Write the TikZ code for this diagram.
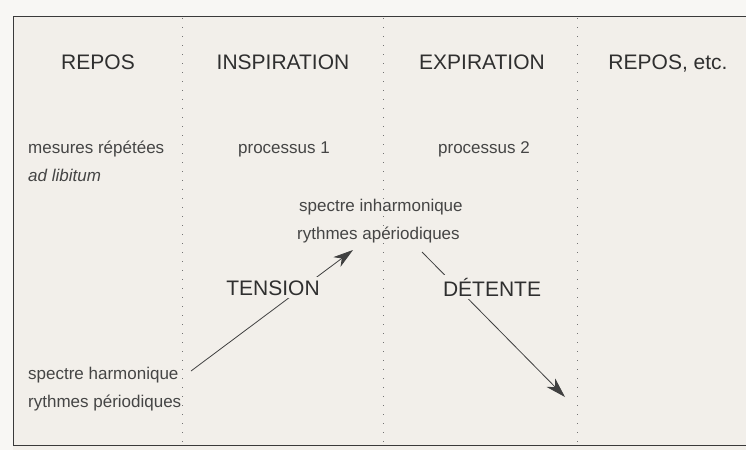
\documentclass[tikz,border=0pt]{standalone}
\usepackage{fontspec}
\setmainfont{Liberation Sans}
\usetikzlibrary{arrows.meta}
\definecolor{bg}{HTML}{F2EFEA}
\definecolor{paper}{HTML}{F8F7F4}
\definecolor{ink}{HTML}{2F2F2F}
\definecolor{soft}{HTML}{454545}
\definecolor{rule}{HTML}{3A3A3A}
\begin{document}
\begin{tikzpicture}[x=1pt,y=-1pt,
  head/.style={font=\fontsize{21}{25}\selectfont, text=ink, inner sep=0pt, anchor=base},
  txt/.style={font=\fontsize{17}{20}\selectfont, text=soft, inner sep=0pt, anchor=base west},
  ctxt/.style={font=\fontsize{17}{20}\selectfont, text=soft, inner sep=0pt, anchor=base},
  lbl/.style={font=\fontsize{21}{25}\selectfont, text=ink, fill=bg, inner xsep=1pt, inner ysep=3pt, anchor=base},
  frame/.style={draw=rule, line width=0.9pt},
  sep/.style={draw=black!55, line width=1pt, dash pattern=on 0.9pt off 8.1pt},
  arr/.style={draw=black!75, line width=0.8pt, -{Stealth[length=20pt,width=12pt,inset=6pt]}}]
\useasboundingbox (0,0) rectangle (746,450);
\fill[paper] (0,0) rectangle (746,450);
\fill[bg] (13,16) rectangle (746,450);
% frame
\draw[frame] (746,16) -- (13,16) -- (13,445) -- (746,445);
% dotted separators
\draw[sep] (182,18) -- (182,445);
\draw[sep] (383,18) -- (383,445);
\draw[sep] (577,18) -- (577,445);
% headers
\node[head] (h1) at (98,69) {REPOS};
\node[head] (h2) at (283,69) {INSPIRATION};
\node[head] (h3) at (482,69) {EXPIRATION};
\node[head] (h4) at (668,69) {REPOS, etc.};
% texts
\node[txt] (m1) at (28,153) {mesures répétées};
\node[txt] (m2) at (28,181) {\itshape ad libitum};
\node[ctxt] (p1) at (284,153) {processus 1};
\node[ctxt] (p2) at (484,153) {processus 2};
\node[txt] (s1) at (299,211) {spectre inharmonique};
\node[txt] (s2) at (297,239) {rythmes apériodiques};
\node[txt] (h5) at (28,379) {spectre harmonique};
\node[txt] (h6) at (28,407) {rythmes périodiques};
% arrow endpoints
\coordinate (ta) at (191,371);
\coordinate (tb) at (353,250);
\coordinate (da) at (422,252);
\coordinate (db) at (565,397);
\draw[arr] (ta) -- (tb);
\draw[arr] (da) -- (db);
\node[lbl] (tension) at (273,295) {TENSION};
\node[lbl] (detente) at (492,296) {DÉTENTE};
\end{tikzpicture}
\end{document}
